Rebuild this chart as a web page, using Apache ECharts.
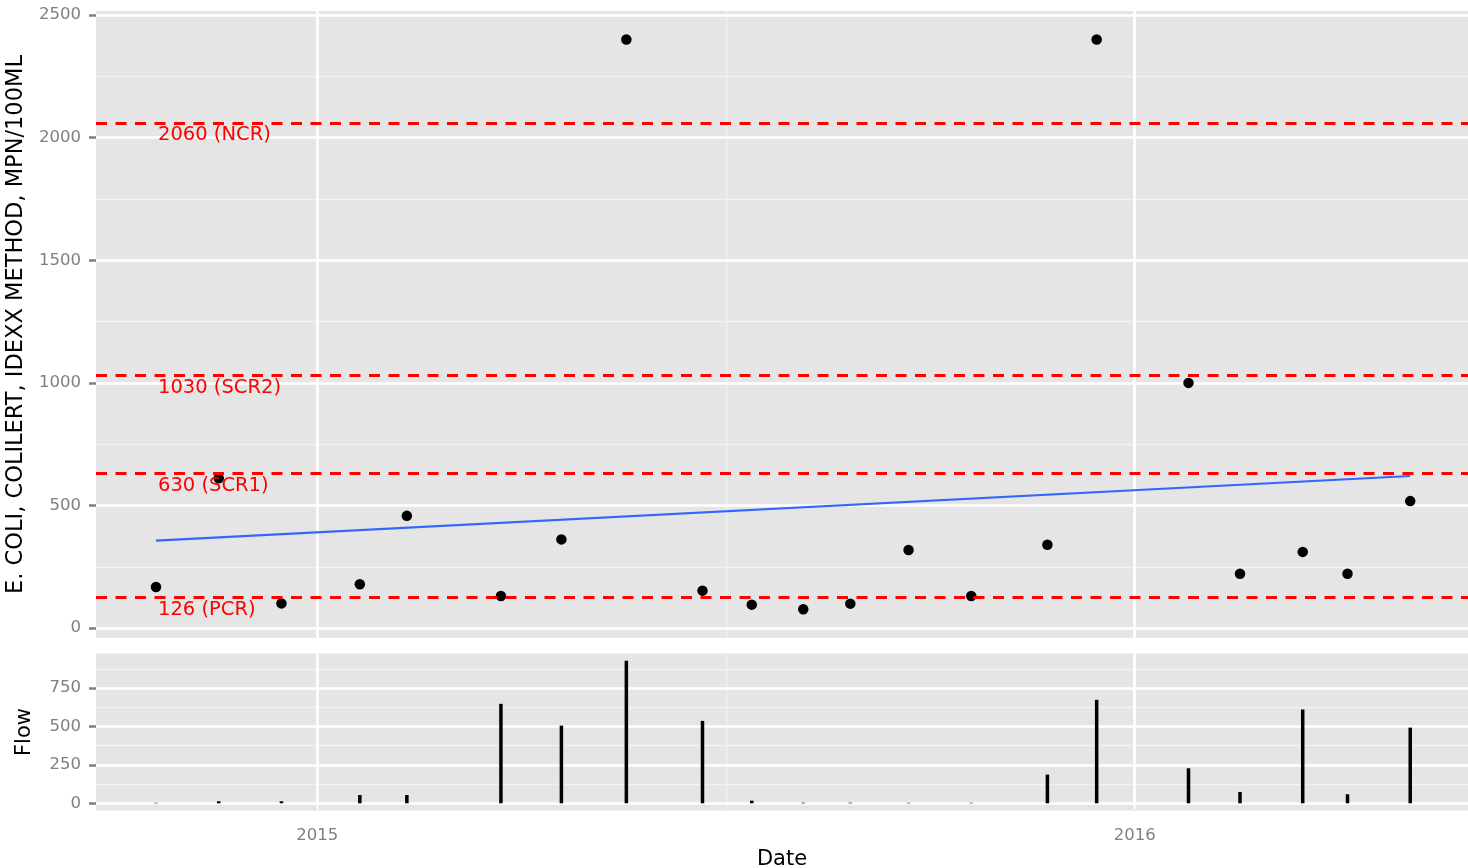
<!DOCTYPE html>
<html><head><meta charset="utf-8">
<script src="https://cdn.jsdelivr.net/npm/echarts@6/dist/echarts.min.js"></script>
<style>html,body{margin:0;padding:0;background:#fff}#c{width:1468px;height:868px}</style>
</head><body><div id="c"></div>
<script>
// ---- data ----
const dates = ['2014-10-21','2014-11-18','2014-12-16','2015-01-20','2015-02-10','2015-03-24','2015-04-20','2015-05-19','2015-06-22','2015-07-14','2015-08-06','2015-08-27','2015-09-22','2015-10-20','2015-11-23','2015-12-15','2016-01-25','2016-02-17','2016-03-16','2016-04-05','2016-05-03'];
const ecoli = [168, 611, 101, 179, 458, 131, 362, 2400, 153, 96, 77, 100, 319, 131, 340, 2400, 1000, 222, 311, 222, 518];
const flow = [3, 13, 13, 54, 54, 648, 506, 928, 537, 17, 4, 4, 3, 3, 187, 674, 228, 74, 611, 59, 493];
const thresholds = [2060, 1030, 630, 126];
const thresholdLabels = ['2060 (NCR)', '1030 (SCR2)', '630 (SCR1)', '126 (PCR)'];
const trendValues = [356.7, 620.4]; // fitted trend at first and last date
const ecoliTicks = [0, 500, 1000, 1500, 2000, 2500];
const ecoliMinor = [250, 750, 1250, 1750, 2250];
const flowTicks = [0, 250, 500, 750];
const flowMinor = [125, 375, 625, 875];
const yearTicks = ['2015-01-01', '2016-01-01'];

const DAY = 86400000;
const ts = s => { const p = s.split('-').map(Number); return Date.UTC(p[0], p[1] - 1, p[2]); };
const yearTs = yearTicks.map(ts);
const t0 = yearTs[0];
const xMin = t0 - 98.8 * DAY, xMax = t0 + 513.8 * DAY;
const xMinor = [(yearTs[0] + yearTs[1]) / 2];

const FONT = 'DejaVu Sans';
const GREY = '#7F7F7F';
const BG = '#E5E5E5';

function gridLines(major, minor) {
  return [
    ...minor.map(v => ({ yAxis: v, lineStyle: { color: '#F2F2F2', width: 1.3, type: 'solid', opacity: 1 } })),
    ...xMinor.map(v => ({ xAxis: v, lineStyle: { color: '#F2F2F2', width: 1.3, type: 'solid', opacity: 1 } })),
    ...major.map(v => ({ yAxis: v, lineStyle: { color: '#FFFFFF', width: 2.7, type: 'solid', opacity: 1 } })),
    ...yearTs.map(v => ({ xAxis: v, lineStyle: { color: '#FFFFFF', width: 2.7, type: 'solid', opacity: 1 } }))
  ];
}
const mlBase = { silent: true, symbol: ['none', 'none'], label: { show: false }, emphasis: { disabled: true }, animation: false };

const chart = echarts.init(document.getElementById('c'), null, { renderer: 'canvas' });
chart.setOption({
  animation: false,
  backgroundColor: '#FFFFFF',
  textStyle: { fontFamily: FONT },
  grid: [
    { left: 96, right: 0, top: 11, height: 627, show: true, backgroundColor: BG, borderWidth: 0, outerBoundsMode: 'none', containLabel: false },
    { left: 96, right: 0, top: 653.5, height: 157, show: true, backgroundColor: BG, borderWidth: 0, outerBoundsMode: 'none', containLabel: false }
  ],
  xAxis: [
    { type: 'value', gridIndex: 0, min: xMin, max: xMax, axisLine: { show: false }, axisTick: { show: false }, axisLabel: { show: false }, splitLine: { show: false } },
    { type: 'value', gridIndex: 1, min: xMin, max: xMax,
      axisLine: { show: false },
      axisTick: { show: true, customValues: yearTs, length: 7, lineStyle: { color: GREY, width: 2.5 } },
      axisLabel: { show: true, customValues: yearTs, formatter: v => String(new Date(v).getUTCFullYear()), color: GREY, fontSize: 16.5, fontFamily: FONT, margin: 17 },
      splitLine: { show: false },
      name: 'Date', nameLocation: 'middle', nameGap: 39, nameTextStyle: { color: '#000', fontSize: 21, fontFamily: FONT } }
  ],
  yAxis: [
    { type: 'value', gridIndex: 0, min: -40, max: 2516,
      axisLine: { show: false },
      axisTick: { show: true, customValues: ecoliTicks, length: 7, lineStyle: { color: GREY, width: 2.5 } },
      axisLabel: { show: true, customValues: ecoliTicks, formatter: v => String(v), color: GREY, fontSize: 16.5, fontFamily: FONT, margin: 15 },
      splitLine: { show: false },
      name: 'E. COLI, COLILERT, IDEXX METHOD, MPN/100ML', nameLocation: 'middle', nameRotate: 90, nameGap: 46,
      nameTextStyle: { color: '#000', fontSize: 22.5, fontFamily: FONT } },
    { type: 'value', gridIndex: 1, min: -47, max: 976,
      axisLine: { show: false },
      axisTick: { show: true, customValues: flowTicks, length: 7, lineStyle: { color: GREY, width: 2.5 } },
      axisLabel: { show: true, customValues: flowTicks, formatter: v => String(v), color: GREY, fontSize: 16.5, fontFamily: FONT, margin: 15 },
      splitLine: { show: false },
      name: 'Flow', nameLocation: 'middle', nameRotate: 90, nameGap: 61,
      nameTextStyle: { color: '#000', fontSize: 21, fontFamily: FONT } }
  ],
  series: [
    { name: 'gridTop', type: 'line', xAxisIndex: 0, yAxisIndex: 0, data: [], z: 1, silent: true,
      markLine: Object.assign({}, mlBase, { z: 1, data: gridLines(ecoliTicks, ecoliMinor) }) },
    { name: 'gridBottom', type: 'line', xAxisIndex: 1, yAxisIndex: 1, data: [], z: 1, silent: true,
      markLine: Object.assign({}, mlBase, { z: 1, data: gridLines(flowTicks, flowMinor) }) },
    { name: 'E. coli', type: 'scatter', xAxisIndex: 0, yAxisIndex: 0, z: 3, symbol: 'circle', symbolSize: 10.5,
      itemStyle: { color: '#000000', opacity: 1 },
      data: dates.map((d, i) => [ts(d), ecoli[i]]) },
    { name: 'thresholds', type: 'line', xAxisIndex: 0, yAxisIndex: 0, data: [], z: 4, silent: true,
      markLine: Object.assign({}, mlBase, { z: 4, data: thresholds.map(v => ({ yAxis: v, lineStyle: { color: '#FF0000', width: 3, type: [11, 8.5], opacity: 1 } })) }) },
    { name: 'thresholdLabels', type: 'scatter', xAxisIndex: 0, yAxisIndex: 0, z: 5, silent: true, symbolSize: 1,
      itemStyle: { color: 'rgba(0,0,0,0)', opacity: 1 },
      label: { show: true, position: [2.5, 3], align: 'left', verticalAlign: 'top', color: '#FF0000', opacity: 1, fontSize: 19.5, fontFamily: FONT,
        formatter: p => thresholdLabels[p.dataIndex] },
      data: thresholds.map(v => [ts(dates[0]), v]) },
    { name: 'trend', type: 'line', xAxisIndex: 0, yAxisIndex: 0, z: 5, silent: true, symbol: 'none',
      lineStyle: { color: '#3366FF', width: 2.2, opacity: 1 },
      data: [[ts(dates[0]), trendValues[0]], [ts(dates[dates.length - 1]), trendValues[1]]] },
    { name: 'Flow', type: 'bar', xAxisIndex: 1, yAxisIndex: 1, z: 3, barWidth: 3.5, itemStyle: { color: '#000000', opacity: 1 },
      data: dates.map((d, i) => [ts(d), flow[i]]) }
  ]
});
</script></body></html>
